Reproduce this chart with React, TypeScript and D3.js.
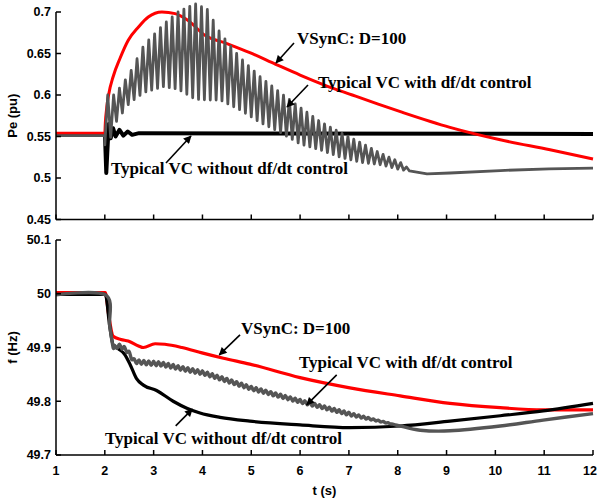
import * as d3 from "d3";

// time axis + tick values
const tTicks = [1, 2, 3, 4, 5, 6, 7, 8, 9, 10, 11, 12];
const peTicks = [0.45, 0.5, 0.55, 0.6, 0.65, 0.7];
const fTicks = [49.7, 49.8, 49.9, 50, 50.1];
const peTickLabels = ["0.45", "0.5", "0.55", "0.6", "0.65", "0.7"];
const fTickLabels = ["49.7", "49.8", "49.9", "50", "50.1"];

// ---- Pe (pu) ----
const peRedT = [1, 2, 2.01, 2.04, 2.08, 2.17, 2.31, 2.48, 2.69, 2.89, 3.17, 3.44, 3.7, 4.05, 4.5, 4.97, 5.5, 6.0, 6.5, 7.07, 7.6, 8.1, 9.07, 10.1, 11.12, 12];
const peRed = [0.554, 0.554, 0.566, 0.585, 0.601, 0.622, 0.644, 0.666, 0.682, 0.694, 0.7, 0.698, 0.69, 0.672, 0.662, 0.651, 0.637, 0.624, 0.612, 0.6, 0.589, 0.579, 0.561, 0.546, 0.534, 0.523];

const peBlackT = [1, 2, 2.01, 2.03, 2.05, 2.08, 2.12, 2.17, 2.22, 2.3, 2.38, 2.47, 2.56, 2.7, 12];
const peBlack = [0.553, 0.553, 0.54, 0.506, 0.53, 0.565, 0.548, 0.56, 0.55, 0.558, 0.551, 0.556, 0.552, 0.554, 0.553];

// df/dt control: oscillating, kept as read-off upper / lower envelope
const peGrayEnvT = [2.0, 2.1, 2.2, 2.5, 2.8, 3.2, 3.5, 3.85, 4.1, 4.36, 4.77, 5.18, 5.59, 6.0, 6.41, 6.82, 7.23, 7.64, 8.05, 8.3];
const peGrayHi = [0.6, 0.6, 0.6, 0.625, 0.66, 0.685, 0.7, 0.71, 0.703, 0.675, 0.645, 0.622, 0.603, 0.585, 0.568, 0.555, 0.543, 0.53, 0.519, 0.508];
const peGrayLo = [0.54, 0.545, 0.565, 0.59, 0.603, 0.61, 0.607, 0.595, 0.594, 0.594, 0.582, 0.567, 0.555, 0.541, 0.534, 0.525, 0.519, 0.516, 0.51, 0.508];
const peGrayPre = [[1, 0.551], [2, 0.551]];
const peGrayTail = [[8.6, 0.505], [9.07, 0.506], [10.1, 0.509], [11.1, 0.511], [12, 0.512]];
const peGrayPeriod = 0.12;

// ---- f (Hz) ----
const fRedT = [1, 2.01, 2.08, 2.17, 2.33, 2.48, 2.69, 2.79, 3.03, 3.23, 3.58, 3.99, 4.43, 4.97, 6.0, 7.02, 8.05, 9.07, 10.1, 10.98, 12];
const fRed = [50.002, 50.002, 49.96, 49.921, 49.915, 49.912, 49.903, 49.9, 49.907, 49.906, 49.9, 49.89, 49.88, 49.869, 49.844, 49.825, 49.81, 49.796, 49.788, 49.784, 49.784];

const fBlackT = [1, 2.01, 2.1, 2.17, 2.27, 2.4, 2.52, 2.65, 2.79, 3.06, 3.4, 3.68, 3.95, 4.36, 4.97, 6.0, 7.02, 8.05, 9.07, 10.1, 10.98, 12];
const fBlack = [49.999, 49.999, 49.94, 49.905, 49.898, 49.888, 49.868, 49.842, 49.83, 49.82, 49.8, 49.787, 49.778, 49.77, 49.763, 49.756, 49.751, 49.754, 49.763, 49.773, 49.782, 49.796];

const fGrayT = [1, 2.01, 2.1, 2.17, 2.31, 2.45, 2.6, 2.69, 3.17, 3.58, 4.05, 4.43, 4.97, 6.0, 7.02, 8.05, 8.46, 9.07, 10.1, 10.98, 12];
const fGray = [49.998, 49.998, 49.94, 49.9, 49.903, 49.895, 49.875, 49.873, 49.869, 49.861, 49.852, 49.841, 49.825, 49.8, 49.776, 49.754, 49.746, 49.745, 49.754, 49.765, 49.777];
const fGrayAmpT = [2.2, 2.5, 7.0, 8.0];
const fGrayAmp = [0.003, 0.004, 0.003, 0];
const fGrayPeriod = 0.1;

// annotations [text, textT, textV, tailT, tailV, tipT, tipV]
const peNotes: [string, number, number, number, number, number, number][] = [
    ["VSynC: D=100", 5.936, 0.6614, 5.875, 0.6627, 5.506, 0.6386],
    ["Typical VC with df/dt control", 6.367, 0.6084, 6.162, 0.612, 5.732, 0.5855],
    ["Typical VC without df/dt control", 2.127, 0.5048, 3.253, 0.5181, 3.765, 0.5506],
];
const fNotes: [string, number, number, number, number, number, number][] = [
    ["VSynC: D=100", 4.789, 49.9253, 4.769, 49.9234, 4.345, 49.8862],
    ["Typical VC with df/dt control", 5.977, 49.8621, 6.75, 49.849, 6.135, 49.7933],
    ["Typical VC without df/dt control", 2.004, 49.7208, 3.452, 49.7543, 3.792, 49.7853],
];

const RED = "#ff0000";
const GRAY = "#555555";
const tickFont = "'Liberation Sans', Arial, sans-serif";
const noteFont = "'Liberation Serif', 'Times New Roman', serif";

const x = d3.scaleLinear().domain([1, 12]).range([56, 593]);
const yPe = d3.scaleLinear().domain([0.45, 0.7]).range([219.5, 12]);
const yF = d3.scaleLinear().domain([49.7, 50.1]).range([455, 240]);

function zip(t: number[], v: number[]) {
    return t.map((ti, i) => [ti, v[i]] as [number, number]);
}

// zigzag between the read upper/lower envelopes
function peGrayPoints() {
    const hi = d3.scaleLinear().domain(peGrayEnvT).range(peGrayHi);
    const lo = d3.scaleLinear().domain(peGrayEnvT).range(peGrayLo);
    const pts: [number, number][] = peGrayPre.map(p => [p[0], p[1]] as [number, number]);
    const half = peGrayPeriod / 2;
    const end = peGrayEnvT[peGrayEnvT.length - 1];
    for (let k = 0; 2.0 + k * half <= end; k++) {
        const t = 2.0 + k * half;
        pts.push([t, k % 2 === 0 ? lo(t) : hi(t)]);
    }
    peGrayTail.forEach(p => pts.push([p[0], p[1]]));
    return pts;
}

function fGrayPoints() {
    const mid = d3.scaleLinear().domain(fGrayT).range(fGray);
    const amp = d3.scaleLinear().domain(fGrayAmpT).range(fGrayAmp).clamp(true);
    const pts: [number, number][] = [];
    const half = fGrayPeriod / 2;
    fGrayT.forEach((t, i) => { if (t <= fGrayAmpT[0]) pts.push([t, fGray[i]]); });
    const end = fGrayAmpT[fGrayAmpT.length - 1];
    for (let k = 0; fGrayAmpT[0] + k * half <= end; k++) {
        const t = fGrayAmpT[0] + k * half;
        pts.push([t, mid(t) + (k % 2 === 0 ? 1 : -1) * amp(t)]);
    }
    fGrayT.forEach((t, i) => { if (t > end) pts.push([t, fGray[i]]); });
    return pts;
}

function Panel(props: {y: d3.ScaleLinear<number, number>; ticks: number[]; labels: string[]; showX: boolean}) {
    const {y, ticks, labels, showX} = props;
    const [y0, y1] = y.range();
    return <g>
        <line x1={x(1)} x2={x(1)} y1={y0} y2={y1} stroke="#000" strokeWidth={1.5}/>
        <line x1={x(1)} x2={x(12)} y1={y0} y2={y0} stroke="#000" strokeWidth={1.5}/>
        {ticks.map((v, i) => <g key={"y" + i}>
            <line x1={x(1)} x2={x(1) + 5} y1={y(v)} y2={y(v)} stroke="#000" strokeWidth={1.5}/>
            <text x={x(1) - 5} y={y(v)} dy="0.35em" textAnchor="end" fontFamily={tickFont}
                  fontWeight="bold" fontSize={12.5}>{labels[i]}</text>
        </g>)}
        {tTicks.map(t => {
            const last = t === tTicks[tTicks.length - 1];
            return <g key={"x" + t}>
                <line x1={x(t)} x2={x(t)} y1={y0} y2={y0 - 5} stroke="#000" strokeWidth={1.5}/>
                {showX && <text x={last ? 597 : x(t)} y={y0 + 20} textAnchor={last ? "end" : "middle"}
                                fontFamily={tickFont} fontWeight="bold" fontSize={12.5}>{t}</text>}
            </g>;
        })}
    </g>;
}

function Notes(props: {notes: [string, number, number, number, number, number, number][]; y: d3.ScaleLinear<number, number>}) {
    return <g>
        {props.notes.map((n, i) => <g key={i}>
            <text x={x(n[1])} y={props.y(n[2])} fontFamily={noteFont} fontWeight="bold" fontSize={17}>{n[0]}</text>
            <line x1={x(n[3])} y1={props.y(n[4])} x2={x(n[5])} y2={props.y(n[6])} stroke="#000"
                  strokeWidth={1.6} markerEnd="url(#arrow)"/>
        </g>)}
    </g>;
}

export default function App() {
    const smoothPe = d3.line<[number, number]>().x(d => x(d[0])).y(d => yPe(d[1])).curve(d3.curveMonotoneX);
    const linePeLin = d3.line<[number, number]>().x(d => x(d[0])).y(d => yPe(d[1]));
    const lineFs = d3.line<[number, number]>().x(d => x(d[0])).y(d => yF(d[1])).curve(d3.curveMonotoneX);
    const lineFc = d3.line<[number, number]>().x(d => x(d[0])).y(d => yF(d[1])).curve(d3.curveCardinal);

    return <svg width={598} height={504} style={{position: "absolute", left: 0, top: 0, background: "#fff"}}>
        <defs>
            <marker id="arrow" viewBox="0 0 10 10" refX={9} refY={5} markerWidth={9} markerHeight={8}
                    markerUnits="userSpaceOnUse" orient="auto">
                <path d="M0,0 L10,5 L0,10 z" fill="#000"/>
            </marker>
        </defs>

        {/* top panel */}
        <path d={linePeLin(zip(peBlackT, peBlack)) ?? ""} fill="none" stroke="#000" strokeWidth={4} strokeLinejoin="round"/>
        <path d={smoothPe(zip(peRedT, peRed)) ?? ""} fill="none" stroke={RED} strokeWidth={3}/>
        <path d={linePeLin(peGrayPoints()) ?? ""} fill="none" stroke={GRAY} strokeWidth={2.8} strokeLinejoin="round"/>
        <Panel y={yPe} ticks={peTicks} labels={peTickLabels} showX={false}/>
        <Notes notes={peNotes} y={yPe}/>
        <text transform={`translate(17,${(yPe(0.45) + yPe(0.7)) / 2}) rotate(-90)`} textAnchor="middle"
              fontFamily={tickFont} fontWeight="bold" fontSize={13}>Pe (pu)</text>

        {/* bottom panel */}
        <path d={lineFs(zip(fRedT, fRed)) ?? ""} fill="none" stroke={RED} strokeWidth={3.2}/>
        <path d={lineFs(zip(fBlackT, fBlack)) ?? ""} fill="none" stroke="#000" strokeWidth={3.2}/>
        <path d={lineFc(fGrayPoints()) ?? ""} fill="none" stroke={GRAY} strokeWidth={3.4}/>
        <Panel y={yF} ticks={fTicks} labels={fTickLabels} showX={true}/>
        <Notes notes={fNotes} y={yF}/>
        <text transform={`translate(17,${(yF(49.7) + yF(50.1)) / 2}) rotate(-90)`} textAnchor="middle"
              fontFamily={tickFont} fontWeight="bold" fontSize={13}>f (Hz)</text>
        <text x={(x(1) + x(12)) / 2} y={495} textAnchor="middle" fontFamily={tickFont} fontWeight="bold"
              fontSize={13}>t (s)</text>
    </svg>;
}
